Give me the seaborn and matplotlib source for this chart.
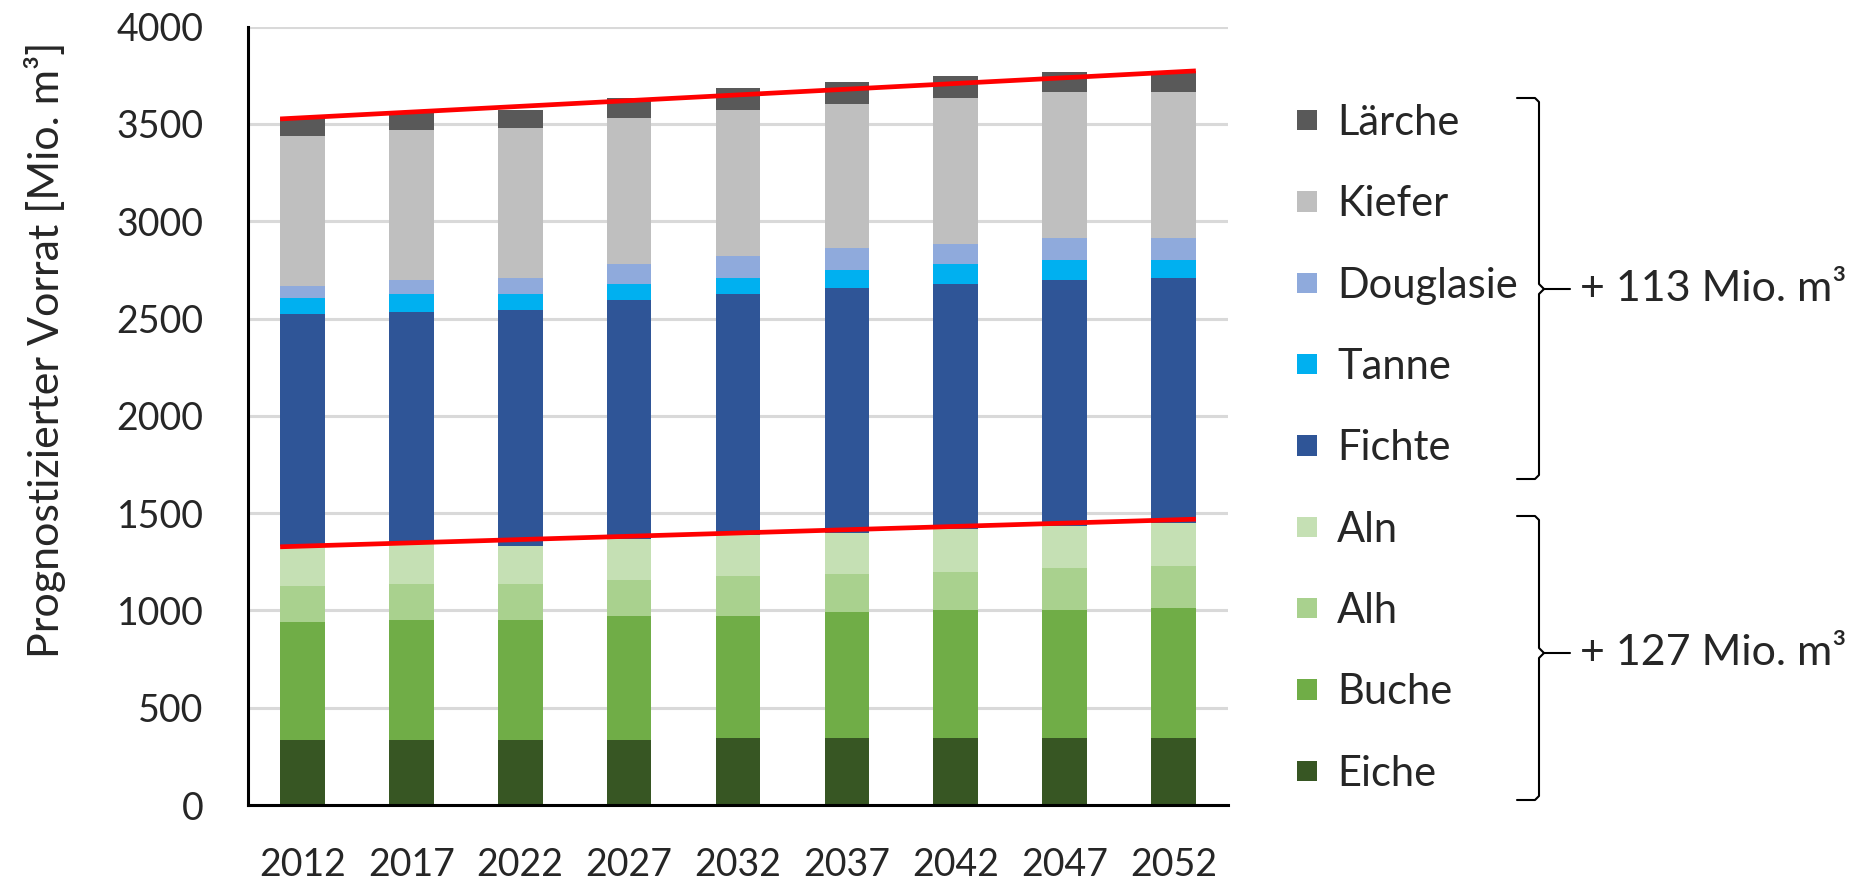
import matplotlib
matplotlib.use('Agg')
import numpy as np
import pandas as pd
import seaborn as sns
from matplotlib import pyplot as plt
from matplotlib.lines import Line2D
from matplotlib.patches import Patch

years = ['2012', '2017', '2022', '2027', '2032', '2037', '2042', '2047', '2052']

# stock per species and year [Mio. m3], bottom to top of the stack
eiche = [334, 334, 334, 334, 344, 344, 344, 344, 344]
buche = [606, 617, 617, 637, 627, 648, 658, 658, 668]
alh = [185, 185, 185, 185, 206, 195, 195, 216, 216]
aln = [206, 212, 195, 209, 211, 213, 220, 216, 223]
fichte = [1192, 1186, 1213, 1230, 1238, 1257, 1260, 1264, 1257]
tanne = [83, 92, 82, 83, 82, 92, 103, 103, 93]
douglasie = [61, 72, 82, 102, 113, 114, 103, 113, 113]
kiefer = [771, 771, 771, 751, 751, 740, 750, 750, 750]
laerche = [93, 87, 93, 103, 113, 113, 113, 103, 108]

species = ['Eiche', 'Buche', 'Alh', 'Aln', 'Fichte', 'Tanne', 'Douglasie', 'Kiefer', 'Lärche']
colors = ['#375623', '#70AD47', '#A9D18E', '#C5E0B4', '#2F5597', '#00B0F0', '#8FAADC', '#BFBFBF', '#595959']

# trend lines (start, end) for both groups
trend_upper = [3526, 3773]
trend_lower = [1327, 1469]
annot_upper = '+ 113 Mio. m³'
annot_lower = '+ 127 Mio. m³'

df = pd.DataFrame(dict(zip(species, [eiche, buche, alh, aln, fichte, tanne, douglasie, kiefer, laerche])), index=years)
cum = df.cumsum(axis=1)

sns.set_theme(style='white')
plt.rcParams['font.family'] = ['Lato', 'DejaVu Sans']

W, H = 1874, 883
fig = plt.figure(figsize=(W / 100, H / 100), dpi=100)
ax = fig.add_axes([248 / W, 78 / H, 980 / W, 778.3 / H])

bar_w = 0.41
# draw cumulative totals from the top layer down so each segment shows
for sp, col in zip(species[::-1], colors[::-1]):
    long = pd.DataFrame({'year': years, 'value': cum[sp].values})
    sns.barplot(data=long, x='year', y='value', color=col, width=bar_w,
                saturation=1, ax=ax, zorder=2, linewidth=0)

ax.set_ylim(0, 4000)
ax.set_xlim(-0.5, len(years) - 0.5)
ax.set_yticks(np.arange(0, 4001, 500))
ax.yaxis.grid(True, color='#D9D9D9', linewidth=2.2, zorder=0)
ax.set_axisbelow(True)
for side in ['top', 'right']:
    ax.spines[side].set_visible(False)
for side in ['left', 'bottom']:
    ax.spines[side].set_color('black')
    ax.spines[side].set_linewidth(2.2)
    ax.spines[side].set_zorder(3)
ax.tick_params(axis='y', length=0, pad=32, labelsize=27)
ax.tick_params(axis='x', length=0, pad=30, labelsize=27)
ax.set_xlabel('')
ax.set_ylabel('Prognostizierter Vorrat [Mio. m³]', fontsize=31)
ax.yaxis.set_label_coords(-0.186, 0.585)

# trend lines from the left edge of the first bar to the right edge of the last
x0, x1 = -bar_w / 2, len(years) - 1 + bar_w / 2
ax.plot([x0, x1], trend_upper, color='#FF0000', linewidth=3.4, zorder=5, solid_capstyle='butt')
ax.plot([x0, x1], trend_lower, color='#FF0000', linewidth=3.4, zorder=5, solid_capstyle='butt')

handles = [Patch(facecolor=c, edgecolor='none') for c in colors[::-1]]
fig.legend(handles, species[::-1], loc='upper left', bbox_to_anchor=(1297 / W, 1 - 104 / H),
           frameon=False, fontsize=30, handlelength=0.48, handleheight=0.38,
           handletextpad=0.48, labelspacing=1.04, borderpad=0, borderaxespad=0)


def brace(top, bottom, tip, x=1539):
    ys = lambda v: 1 - v / H
    xs = lambda v: v / W
    pts_top = [(x - 22, top), (x - 4, top), (x, top + 4), (x, tip - 5), (x + 5, tip), (x + 31, tip)]
    pts_bot = [(x + 5, tip), (x, tip + 5), (x, bottom - 4), (x - 4, bottom), (x - 22, bottom)]
    for pts in (pts_top, pts_bot):
        fig.add_artist(Line2D([xs(p[0]) for p in pts], [ys(p[1]) for p in pts],
                              color='black', linewidth=1.5, transform=fig.transFigure))


brace(98, 479, 289)
brace(516, 800, 653)
fig.text(1580 / W, 1 - 289 / H, annot_upper, fontsize=31, va='center', ha='left')
fig.text(1580 / W, 1 - 653 / H, annot_lower, fontsize=31, va='center', ha='left')

fig.savefig('out.png', dpi=100)
